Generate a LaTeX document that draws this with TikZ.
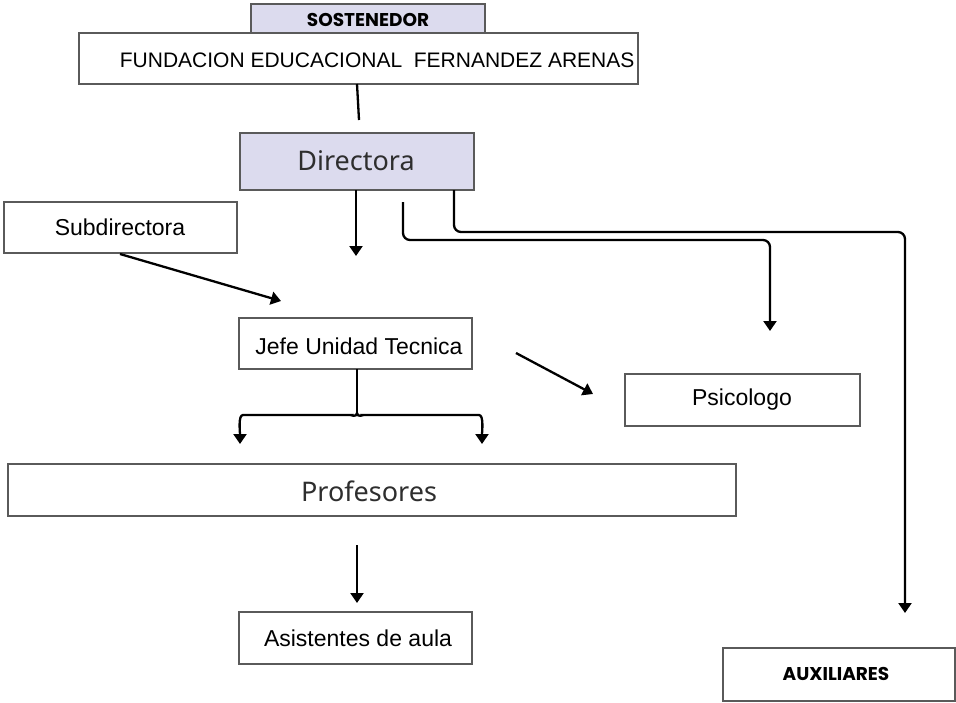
\documentclass[tikz,border=0pt]{standalone}
\usepackage{fontspec}
\setmainfont{Liberation Sans}
\newfontfamily\plexf{Noto Sans}
\newfontfamily\boldf{Poppins}[UprightFont=* Bold]
\usetikzlibrary{arrows.meta}
\definecolor{lav}{HTML}{DCDBEE}
\definecolor{bordergray}{HTML}{5A5A5A}
\definecolor{txtgray}{HTML}{2E2E2E}
\begin{document}
\begin{tikzpicture}[x=1pt,y=-1pt,
  box/.style={draw=bordergray,line width=1.3pt,fill=white,inner sep=0pt,outer sep=0pt},
  lavbox/.style={box,fill=lav},
  conn/.style={line width=2.3pt,draw=black,rounded corners=7pt},
  arr/.style={conn,-{Triangle[length=10pt,width=13pt]}},
  lbl/.style={font=\fontsize{23}{26}\selectfont,text=black},
  big/.style={font=\plexf\fontsize{27}{30}\selectfont,text=txtgray},
  bld/.style={font=\boldf\fontsize{18.5}{21}\selectfont,text=black}]
\useasboundingbox (0,0) rectangle (956,702);
% boxes
\node[lavbox,minimum width=234pt,minimum height=30pt,anchor=north west] (sost) at (251,4) {};
\node[bld] (sostt) at (368,20) {SOSTENEDOR};
\node[box,minimum width=559pt,minimum height=51pt,anchor=north west] (fund) at (79,33) {};
\node[font=\fontsize{21}{24}\selectfont,anchor=east] (fundt) at (638,60) {FUNDACION EDUCACIONAL\ \ FERNANDEZ ARENAS};
\node[lavbox,minimum width=234pt,minimum height=57pt,anchor=north west] (dir) at (240,133) {};
\node[big] (dirt) at (356,161) {Directora};
\node[box,minimum width=233pt,minimum height=51pt,anchor=north west] (sub) at (4,202) {};
\node[lbl] (subt) at (120,227) {Subdirectora};
\node[box,minimum width=233pt,minimum height=51pt,anchor=north west] (jefe) at (239,318) {};
\node[lbl] (jefet) at (359,346) {Jefe Unidad Tecnica};
\node[box,minimum width=235pt,minimum height=52pt,anchor=north west] (psi) at (625,374) {};
\node[lbl] (psit) at (742,400) {Psicologo};
\node[box,minimum width=728pt,minimum height=52pt,anchor=north west] (prof) at (8,464) {};
\node[big] (proft) at (369,491) {Profesores};
\node[box,minimum width=233pt,minimum height=52pt,anchor=north west] (asis) at (239,612) {};
\node[lbl] (asist) at (358,638) {Asistentes de aula};
\node[box,minimum width=232pt,minimum height=53pt,anchor=north west] (aux) at (723,648) {};
\node[bld] (auxt) at (836,674) {AUXILIARES};
% free ends
\coordinate (c1) at (359,120);
\coordinate (c2) at (356,256);
\coordinate (c3s) at (403,202);
\coordinate (c3e) at (770,331);
\coordinate (c4e) at (905,613);
\coordinate (c5s) at (120,254);
\coordinate (c5e) at (281,301);
\coordinate (c6l) at (240,444);
\coordinate (c6r) at (482,444);
\coordinate (c6m) at (357,413);
\coordinate (c7s) at (516,353);
\coordinate (c7e) at (593,394);
\coordinate (c8s) at (357,545);
\coordinate (c8e) at (357,603);
% connectors
\draw[conn,rounded corners=0pt] (fund.south -| 357,0) -- (c1);
\draw[arr] (dir.south -| c2) -- (c2);
\draw[arr] (c3s) |- (590,240) -| (c3e);
\draw[arr] (dir.south -| 454,0) |- (700,232) -| (c4e);
\draw[arr,rounded corners=0pt] (c5s) -- (c5e);
\draw[conn,rounded corners=0pt] (jefe.south -| c6m) -- (c6m);
\draw[arr] (c6m) to[out=-90,in=0] (345,415) -- (250,415) to[out=180,in=90] (c6l);
\draw[arr] (c6m) to[out=-90,in=180] (369,415) -- (472,415) to[out=0,in=90] (c6r);
\draw[arr,rounded corners=0pt] (c7s) -- (c7e);
\draw[arr,rounded corners=0pt] (c8s) -- (c8e);
\end{tikzpicture}
\end{document}
